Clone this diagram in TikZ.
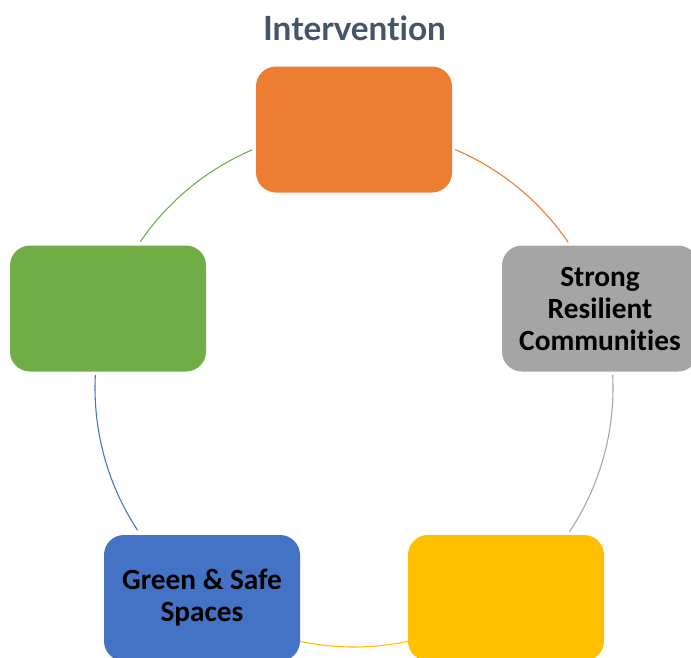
\documentclass[tikz,border=0pt]{standalone}
\usepackage{fontspec}
\setmainfont[Ligatures={NoCommon}]{Carlito}
\newfontfamily\titlefont[Ligatures={NoCommon}]{Lato}
\definecolor{cOrange}{HTML}{ED7D31}
\definecolor{cGray}{HTML}{A5A5A5}
\definecolor{cYellow}{HTML}{FFC000}
\definecolor{cBlue}{HTML}{4472C4}
\definecolor{cGreen}{HTML}{70AD47}
\definecolor{cTitle}{HTML}{44546A}
\tikzset{
  box/.style={rounded corners=15pt, minimum width=147pt, minimum height=94.5pt,
    inner sep=0pt, align=center, font=\fontsize{22}{24}\selectfont\bfseries, text=black},
  ring/.style={line width=0.8pt},
}
\begin{document}
\begin{tikzpicture}[x=0.75pt,y=-0.75pt]
\useasboundingbox (0,0) rectangle (691,657);
\fill[white] (0,0) rectangle (691,657);
\coordinate (c) at (354,388);
% arcs
\draw[ring,cOrange] ([shift={(67:194.25pt)}]c) arc[start angle=67, end angle=34.2, radius=194.25pt];
\draw[ring,cGray] ([shift={(2.9:194.25pt)}]c) arc[start angle=2.9, end angle=-33.7, radius=194.25pt];
\draw[ring,cYellow] ([shift={(-77.9:194.25pt)}]c) arc[start angle=-77.9, end angle=-102.1, radius=194.25pt];
\draw[ring,cBlue] ([shift={(-146.7:194.25pt)}]c) arc[start angle=-146.7, end angle=-182.9, radius=194.25pt];
\draw[ring,cGreen] ([shift={(145.6:194.25pt)}]c) arc[start angle=145.6, end angle=113.2, radius=194.25pt];
% boxes
\node[box, fill=cOrange] (top) at (354,129.5) {};
\node[box, fill=cGray] (right) at (600,308.5) {Strong\\Resilient\\Communities};
\node[box, fill=cGreen] (left) at (108,308.5) {};
\node[box, fill=cBlue] (bl) at (202,598) {Green \& Safe\\Spaces};
\node[box, fill=cYellow] (br) at (506,598) {};
% title
\node[font=\titlefont\fontsize{25}{27}\selectfont\bfseries, text=cTitle] (title) at (354.5,28) {Intervention};
\end{tikzpicture}
\end{document}
